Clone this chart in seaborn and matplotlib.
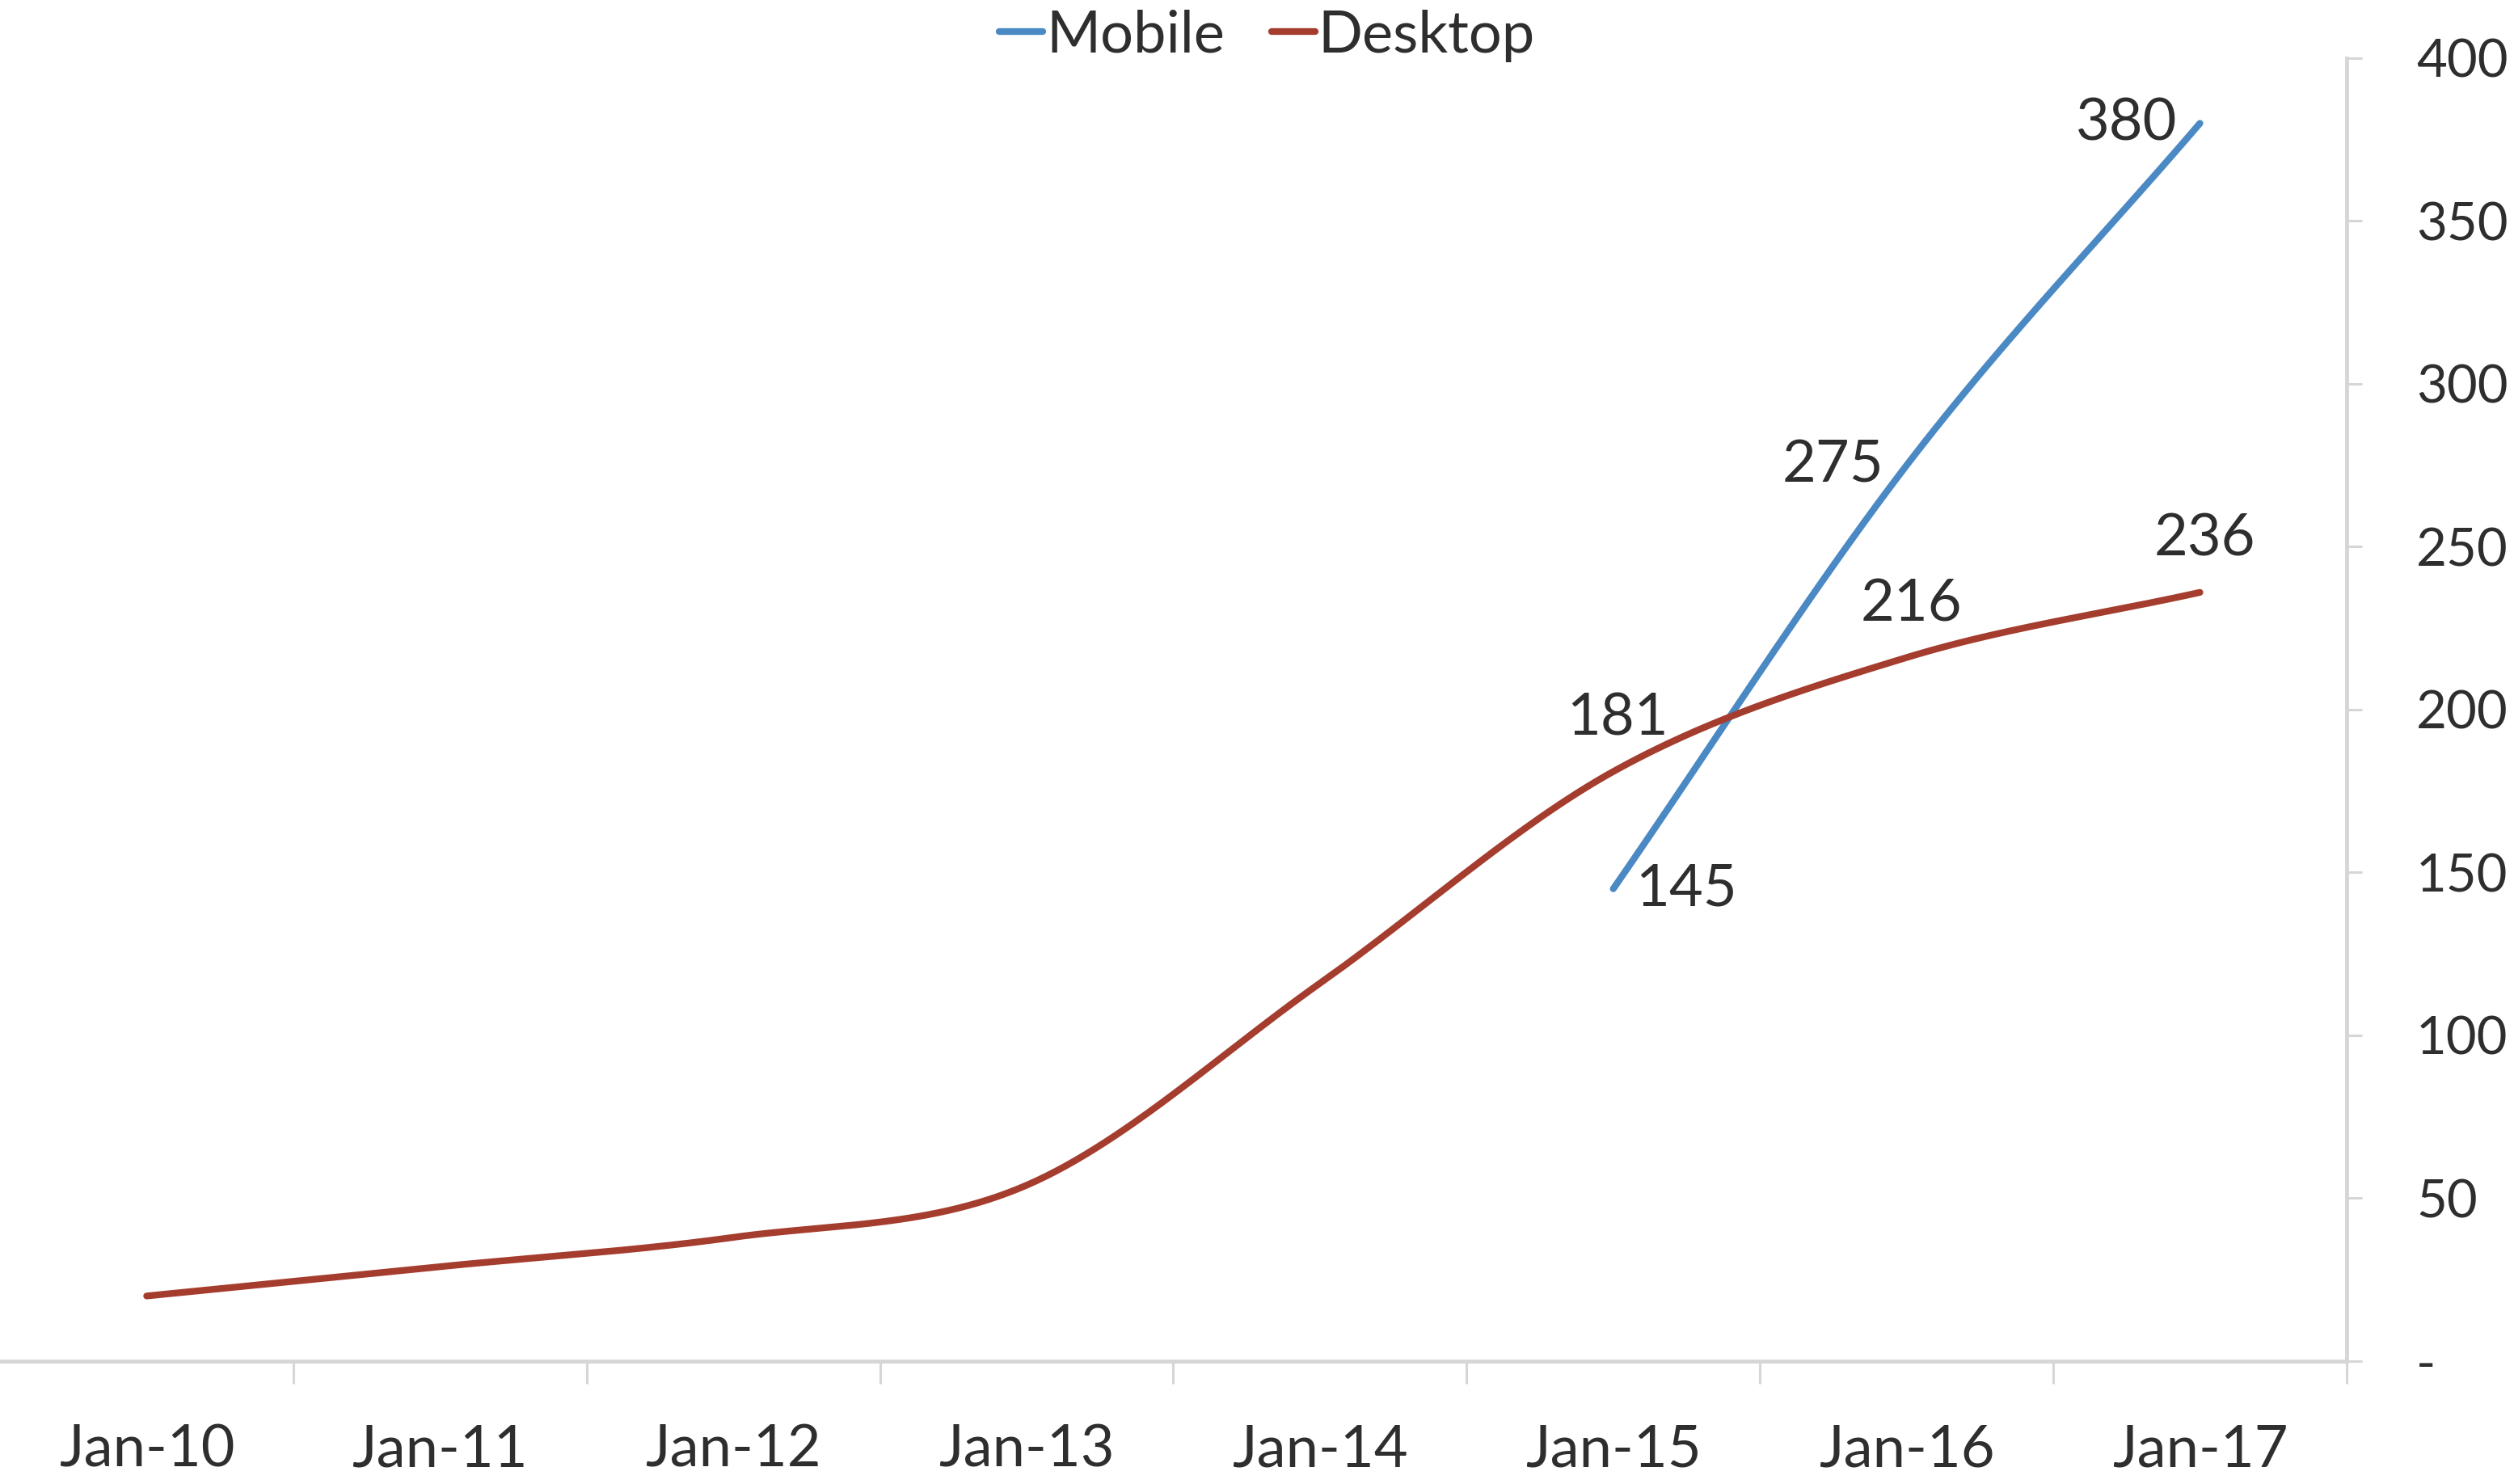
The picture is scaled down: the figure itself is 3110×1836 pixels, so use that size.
import numpy as np
import pandas as pd
import matplotlib
matplotlib.use("Agg")
import matplotlib.pyplot as plt
import seaborn as sns

# --- data -----------------------------------------------------------------
months = ["Jan-10", "Jan-11", "Jan-12", "Jan-13", "Jan-14", "Jan-15", "Jan-16", "Jan-17"]
desktop = [20, 29, 38, 54, 116, 181, 216, 236]
mobile = [np.nan, np.nan, np.nan, np.nan, np.nan, 145, 275, 380]
y_ticks = [0, 50, 100, 150, 200, 250, 300, 350, 400]

MOBILE_COLOR = "#4A89C3"
DESKTOP_COLOR = "#A53D2F"
TEXT_COLOR = "#2E2E2E"
AXIS_COLOR = "#D6D6D6"


def smooth(xs, ys, steps=60):
    """Catmull-Rom smoothing through every point (like a spreadsheet 'smoothed line')."""
    xs = np.asarray(xs, float)
    ys = np.asarray(ys, float)
    n = len(xs)
    m = np.empty(n)
    for i in range(n):
        lo, hi = max(i - 1, 0), min(i + 1, n - 1)
        m[i] = (ys[hi] - ys[lo]) / (xs[hi] - xs[lo])
    out_x, out_y = [], []
    for i in range(n - 1):
        h = xs[i + 1] - xs[i]
        t = np.linspace(0, 1, steps, endpoint=(i == n - 2))
        h00 = 2 * t**3 - 3 * t**2 + 1
        h10 = t**3 - 2 * t**2 + t
        h01 = -2 * t**3 + 3 * t**2
        h11 = t**3 - t**2
        out_x.append(xs[i] + t * h)
        out_y.append(h00 * ys[i] + h10 * h * m[i] + h01 * ys[i + 1] + h11 * h * m[i + 1])
    return np.concatenate(out_x), np.concatenate(out_y)


frames = []
for name, vals in [("Mobile", mobile), ("Desktop", desktop)]:
    idx = [i for i, v in enumerate(vals) if not np.isnan(v)]
    sx, sy = smooth(idx, [vals[i] for i in idx])
    frames.append(pd.DataFrame({"x": sx, "value": sy, "series": name}))
curves = pd.concat(frames, ignore_index=True)

# --- figure ---------------------------------------------------------------
sns.set_theme(style="white")
plt.rcParams["font.family"] = ["Lato", "DejaVu Sans"]

fig = plt.figure(figsize=(31.1, 18.36), dpi=100)
ax = fig.add_axes([0.0, 0.0828, 0.9334, 0.878])

sns.lineplot(data=curves, x="x", y="value", hue="series",
             hue_order=["Mobile", "Desktop"],
             palette={"Mobile": MOBILE_COLOR, "Desktop": DESKTOP_COLOR},
             linewidth=6.0, sort=False, estimator=None, ax=ax, legend=True)

ax.set_xlim(-0.5, 7.5)
ax.set_ylim(0, 400)
ax.set_xlabel("")
ax.set_ylabel("")

# axes frame: only the bottom and right axis lines
for side in ["left", "top"]:
    ax.spines[side].set_visible(False)
for side in ["right", "bottom"]:
    ax.spines[side].set_color(AXIS_COLOR)
    ax.spines[side].set_linewidth(3.5)

# x axis: labels at category centres, tick marks at category boundaries
ax.set_xticks(range(len(months)))
ax.set_xticklabels(months)
ax.set_xticks(np.arange(0.5, len(months), 1.0), minor=True)
ax.tick_params(axis="x", which="major", length=0, pad=56,
               labelsize=52, labelcolor=TEXT_COLOR)
ax.tick_params(axis="x", which="minor", direction="out", length=20,
               width=2.2, color=AXIS_COLOR, bottom=True)

# y axis on the right, zero shown as a dash
ax.yaxis.tick_right()
ax.set_yticks(y_ticks)
ax.set_yticklabels(["-" if v == 0 else str(v) for v in y_ticks])
ax.tick_params(axis="y", which="major", direction="out", length=14, width=2.2,
               color=AXIS_COLOR, pad=48, labelsize=47, labelcolor=TEXT_COLOR)
for lbl in ax.get_yticklabels():
    lbl.set_horizontalalignment("left")

# value labels
label_kw = dict(fontsize=52, color=TEXT_COLOR, textcoords="offset points")
for i, v in enumerate(mobile):
    if np.isnan(v):
        continue
    if i == 5:
        ax.annotate(f"{v:.0f}", (i, v), xytext=(20, 0), ha="left", va="center", **label_kw)
    else:
        ax.annotate(f"{v:.0f}", (i, v), xytext=(-20, 0), ha="right", va="center", **label_kw)
for i, v in enumerate(desktop):
    if i >= 5:
        ax.annotate(f"{v:.0f}", (i, v), xytext=(4, 24), ha="center", va="bottom", **label_kw)

# legend across the top
handles, labels = ax.get_legend_handles_labels()
ax.get_legend().remove()
leg = fig.legend(handles, labels, loc="center", bbox_to_anchor=(0.504, 0.976),
                 ncol=2, frameon=False, fontsize=52, handlelength=0.75,
                 handletextpad=0.05, columnspacing=0.8, borderaxespad=0)
for t in leg.get_texts():
    t.set_color(TEXT_COLOR)

fig.savefig("out.png", dpi=100, facecolor="white")
